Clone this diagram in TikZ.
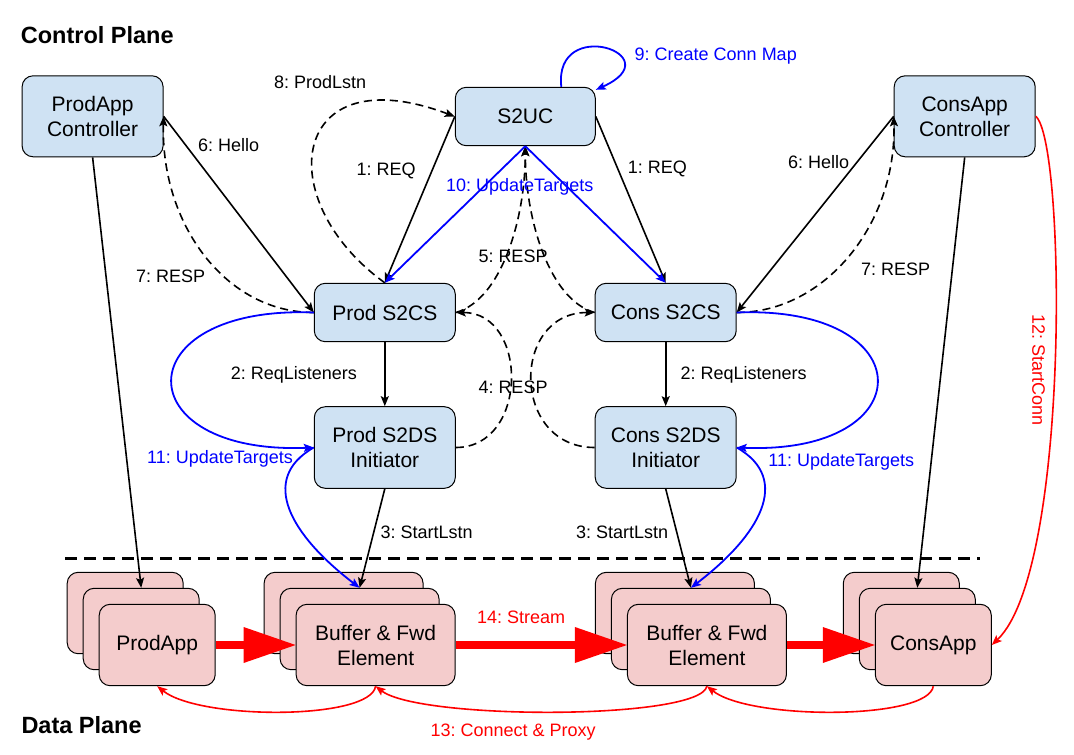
\documentclass[tikz,border=0pt]{standalone}
\usepackage{fontspec}
\setmainfont{Liberation Sans}
\usetikzlibrary{arrows.meta}
\definecolor{cpfill}{HTML}{CFE2F3}
\definecolor{dpfill}{HTML}{F4CCCC}
\definecolor{myblue}{RGB}{0,0,255}
\definecolor{myred}{RGB}{255,0,0}
\frenchspacing
\begin{document}
\begin{tikzpicture}[x=1pt,y=-1pt,
  cbox/.style={draw=black, line width=1pt, fill=cpfill, rounded corners=11pt, align=center,
    font=\fontsize{21}{25}\selectfont, inner sep=0pt, minimum width=141pt},
  dbox/.style={draw=black, line width=1pt, fill=dpfill, rounded corners=11pt, align=center,
    font=\fontsize{21}{25}\selectfont, inner sep=0pt, minimum height=81.4pt},
  lbl/.style={font=\fontsize{18}{21}\selectfont, anchor=base west, inner sep=0pt},
  ttl/.style={font=\fontsize{23.5}{27}\selectfont\bfseries, anchor=base west, inner sep=0pt},
  myarr/.style={-{Stealth[length=10pt,width=8pt,inset=2pt]}},
  conn/.style={line width=1.6pt, myarr},
  dconn/.style={conn, dash pattern=on 8pt off 5pt},
  bconn/.style={conn, draw=myblue, line width=1.8pt},
  rconn/.style={conn, draw=myred, line width=1.6pt},
  sconn/.style={draw=myred, line width=8pt, -{Triangle[length=52pt,width=36pt,line width=0pt]}},
]
\useasboundingbox (0,0) rectangle (1074,755);

% control plane nodes
\node[cbox, minimum height=81pt] (PAC) at (92.6,116.3) {ProdApp\\Controller};
\node[cbox, minimum width=140pt, minimum height=58.4pt] (S2UC) at (525.3,116.5) {S2UC};
\node[cbox, minimum height=81pt] (CAC) at (964.7,116.3) {ConsApp\\Controller};
\node[cbox, minimum height=58.4pt] (PCS) at (384.8,312.5) {Prod S2CS};
\node[cbox, minimum height=81.6pt] (PDS) at (384.8,447.5) {Prod S2DS\\Initiator};
\node[cbox, minimum height=58.4pt] (CCS) at (665.7,312.5) {Cons S2CS};
\node[cbox, minimum height=81.6pt] (CDS) at (665.7,447.5) {Cons S2DS\\Initiator};

% data plane stacks
\node[dbox, minimum width=116pt] (PAb) at (125.2,613) {};
\node[dbox, minimum width=116pt] (PAm) at (141.2,629) {};
\node[dbox, minimum width=116pt] (PA) at (157.2,645) {ProdApp};
\node[dbox, minimum width=159pt] (B1b) at (343.6,613) {};
\node[dbox, minimum width=159pt] (B1m) at (359.6,629) {};
\node[dbox, minimum width=159pt] (B1) at (375.6,645) {Buffer \& Fwd\\Element};
\node[dbox, minimum width=159pt] (B2b) at (674.9,613) {};
\node[dbox, minimum width=159pt] (B2m) at (690.9,629) {};
\node[dbox, minimum width=159pt] (B2) at (706.9,645) {Buffer \& Fwd\\Element};
\node[dbox, minimum width=116pt] (CAb) at (901.3,613) {};
\node[dbox, minimum width=116pt] (CAm) at (917.3,629) {};
\node[dbox, minimum width=116pt] (CA) at (933.3,645) {ConsApp};

% separator
\coordinate (sepL) at (65,558.3);
\coordinate (sepR) at (980,558.3);
\draw[line width=3pt, dash pattern=on 12pt off 7pt] (sepL) -- (sepR);

% titles
\node[ttl] (tcp) at (20.7,43) {Control Plane};
\node[ttl] (tdp) at (21.3,733) {Data Plane};

% black solid connectors
\draw[conn] (PAC.south) -- (PAm.north);
\draw[conn] (CAC.south) -- (CAm.north);
\draw[conn] (PDS.south) -- (B1m.north);
\draw[conn] (CDS.south) -- (B2m.north);
\draw[conn] (PCS.south) -- (PDS.north);
\draw[conn] (CCS.south) -- (CDS.north);
\draw[conn] (S2UC.west) -- (PCS.north);
\draw[conn] (S2UC.east) -- (CCS.north);
\draw[conn] (PAC.east) -- (PCS.west);
\draw[conn] (CAC.west) -- (CCS.east);

% dashed connectors
\draw[dconn] (PCS.north) .. controls +(-115,-83) and +(-165,-62) .. (S2UC.west);
\draw[dconn] (PCS.east) .. controls +(45,-12.5) and +(0,74) .. (S2UC.south);
\draw[dconn] (CCS.west) .. controls +(-45,-12.5) and +(0,74) .. (S2UC.south);
\draw[dconn] (PDS.east) .. controls +(73,0) and +(73,0) .. (PCS.east);
\draw[dconn] (CDS.west) .. controls +(-84,0) and +(-84,0) .. (CCS.west);
\draw[dconn] (PCS.west) .. controls +(-88,0) and +(-3,108) .. (PAC.east);
\draw[dconn] (CCS.east) .. controls +(88,0) and +(3,108) .. (CAC.west);

% blue connectors
\draw[bconn] (S2UC.south) -- (PCS.north);
\draw[bconn] (S2UC.south) -- (CCS.north);
\draw[bconn] ([xshift=36pt]S2UC.north) .. controls +(-8,-72) and +(78,-35) .. ([yshift=-3pt]S2UC.north east);
\draw[bconn] (PCS.west) .. controls +(-189,-7.5) and +(-189,7.5) .. (PDS.west);
\draw[bconn] (CCS.east) .. controls +(187,-7.5) and +(187,7.5) .. (CDS.east);
\draw[bconn] (PDS.west) .. controls +(-56,32) and +(-68,-52) .. (B1m.north);
\draw[bconn] (CDS.east) .. controls +(56,32) and +(68,-52) .. (B2m.north);

% red connectors
\draw[rconn] (CAC.east) .. controls +(30,24) and +(79,-75) .. (CA.east);
\draw[rconn] (B1.south) .. controls +(-5,34) and +(43,34) .. (PA.south);
\draw[rconn] (B2.south) .. controls +(-7,34) and +(44,34) .. (B1.south);
\draw[rconn] (CA.south) .. controls +(-5,34) and +(43,34) .. (B2.south);

% stream arrows
\draw[sconn] (PA.east) -- (B1.west);
\draw[sconn] (B1.east) -- (B2.west);
\draw[sconn] (B2.east) -- (CA.west);

% labels
\node[lbl] (l8) at (273.8,88) {8: ProdLstn};
\node[lbl] (l6a) at (198,151.5) {6: Hello};
\node[lbl] (l1a) at (356.4,175) {1: REQ};
\node[lbl, text=myblue] (l10) at (446,191) {10: UpdateTargets};
\node[lbl] (l7a) at (136,282) {7: RESP};
\node[lbl] (l5) at (478.3,262.5) {5: RESP};
\node[lbl] (l4) at (478.3,393) {4: RESP};
\node[lbl, text=myblue] (l9) at (634.5,60) {9: Create Conn Map};
\node[lbl] (l1b) at (627.7,173) {1: REQ};
\node[lbl] (l6b) at (788,168) {6: Hello};
\node[lbl] (l7b) at (861,275) {7: RESP};
\node[lbl] (l2a) at (230.7,379) {2: ReqListeners};
\node[lbl] (l2b) at (680.4,379) {2: ReqListeners};
\node[lbl, text=myblue] (l11a) at (147,463) {11: UpdateTargets};
\node[lbl, text=myblue] (l11b) at (768.2,466) {11: UpdateTargets};
\node[lbl] (l3a) at (380.5,538) {3: StartLstn};
\node[lbl] (l3b) at (576,538) {3: StartLstn};
\node[lbl, text=myred] (l14) at (477,623) {14: Stream};
\node[lbl, text=myred] (l13) at (430.4,736) {13: Connect \& Proxy};
\node[font=\fontsize{18}{21}\selectfont, text=myred, rotate=-90, inner sep=0pt] (l12) at (1038.5,370) {12: StartConn};
\end{tikzpicture}
\end{document}
